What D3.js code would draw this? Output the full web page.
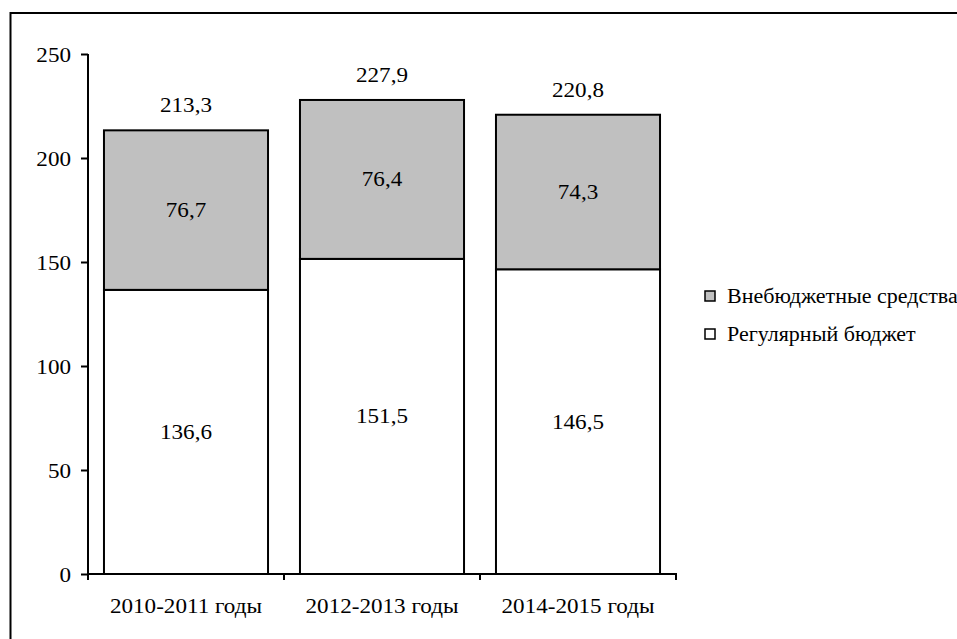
<!DOCTYPE html>
<html><head><meta charset="utf-8">
<script src="https://cdn.jsdelivr.net/npm/d3@7"></script>
</head><body style="margin:0">
<svg id="c" width="957" height="639"></svg>
<script>
const categories = ["2010-2011 годы", "2012-2013 годы", "2014-2015 годы"];
const regular = [136.6, 151.5, 146.5];
const extra = [76.7, 76.4, 74.3];
const totals = [213.3, 227.9, 220.8];
const seriesNames = ["Внебюджетные средства", "Регулярный бюджет"];
const yTicks = [0, 50, 100, 150, 200, 250];

const FONT = "Liberation Serif";
const STRETCH = 1.1;
const fmt = v => String(v.toFixed(1)).replace(".", ",");
const svg = d3.select("#c");
svg.append("rect").attr("x", 10.5).attr("y", 13).attr("width", 1000).attr("height", 700)
  .attr("fill", "#fff").attr("stroke", "#000").attr("stroke-width", 2);

const x = d3.scaleBand().domain(categories).range([88, 676]).paddingInner(0.163).paddingOuter(0.0815);
const y = d3.scaleLinear().domain([0, 250]).range([574, 54]);

const data = categories.map((c, i) => ({c, r: regular[i], e: extra[i], t: totals[i]}));
const g = svg.append("g");
g.selectAll(".r").data(data).join("rect")
  .attr("x", d => x(d.c)).attr("width", x.bandwidth())
  .attr("y", d => y(d.r)).attr("height", d => y(0) - y(d.r))
  .attr("fill", "#fff").attr("stroke", "#000").attr("stroke-width", 2);
g.selectAll(".e").data(data).join("rect")
  .attr("x", d => x(d.c)).attr("width", x.bandwidth())
  .attr("y", d => y(d.r + d.e)).attr("height", d => y(d.r) - y(d.r + d.e))
  .attr("fill", "#c0c0c0").attr("stroke", "#000").attr("stroke-width", 2);

const fs = 21;
function txt(sel, size) {
  return sel.style("font-family", FONT).style("font-size", (size || fs) + "px").attr("fill", "#000").classed("st", true);
}
g.selectAll(".lr").data(data).join("text")
  .attr("x", d => x(d.c) + x.bandwidth()/2).attr("y", d => (y(0) + y(d.r))/2 + 7)
  .attr("text-anchor", "middle").call(txt).text(d => fmt(d.r));
g.selectAll(".le").data(data).join("text")
  .attr("x", d => x(d.c) + x.bandwidth()/2).attr("y", d => (y(d.r) + y(d.r + d.e))/2 + 7)
  .attr("text-anchor", "middle").call(txt).text(d => fmt(d.e));
g.selectAll(".lt").data(data).join("text")
  .attr("x", d => x(d.c) + x.bandwidth()/2).attr("y", d => y(d.t) - 18)
  .attr("text-anchor", "middle").call(txt).text(d => fmt(d.t));

// y axis
const ya = svg.append("g").attr("transform", "translate(88,0)")
  .call(d3.axisLeft(y).tickValues(yTicks).tickSize(7).tickPadding(10).tickFormat(d => d));
ya.attr("font-family", null).attr("font-size", null);
ya.select(".domain").attr("stroke", "#000").attr("stroke-width", 2).attr("d", "M0," + y(250) + "V" + y(0));
ya.selectAll(".tick line").attr("stroke", "#000").attr("stroke-width", 2);
ya.selectAll(".tick text").call(txt).attr("dy", "0.35em");

// x axis
const xa = svg.append("g").attr("transform", "translate(0,574)");
xa.append("line").attr("x1", 88).attr("x2", 677).attr("stroke", "#000").attr("stroke-width", 2);
const bounds = [88, ...categories.map(c => x(c) + x.bandwidth() + x.step()*x.paddingInner()/2)];
xa.selectAll(".xt").data(bounds).join("line")
  .attr("x1", d => d).attr("x2", d => d).attr("y1", 0).attr("y2", 6)
  .attr("stroke", "#000").attr("stroke-width", 2);
xa.selectAll(".xl").data(categories).join("text")
  .attr("x", d => x(d) + x.bandwidth()/2).attr("y", 39)
  .attr("text-anchor", "middle").call(txt).text(d => d);

// legend
const fills = ["#c0c0c0", "#fff"];
const lg = svg.append("g");
seriesNames.forEach((n, i) => {
  const cy = 296 + i * 38;
  lg.append("rect").attr("x", 705).attr("y", cy - 5).attr("width", 10).attr("height", 10)
    .attr("fill", fills[i]).attr("stroke", "#000").attr("stroke-width", 1.5);
  lg.append("text").attr("x", 727).attr("y", cy + 7).call(txt, 20).text(n);
});

// horizontal stretch to match reference glyph proportions
svg.selectAll("text.st").each(function() {
  const w = this.getComputedTextLength();
  d3.select(this).attr("textLength", w * STRETCH).attr("lengthAdjust", "spacingAndGlyphs");
});
</script></body></html>
